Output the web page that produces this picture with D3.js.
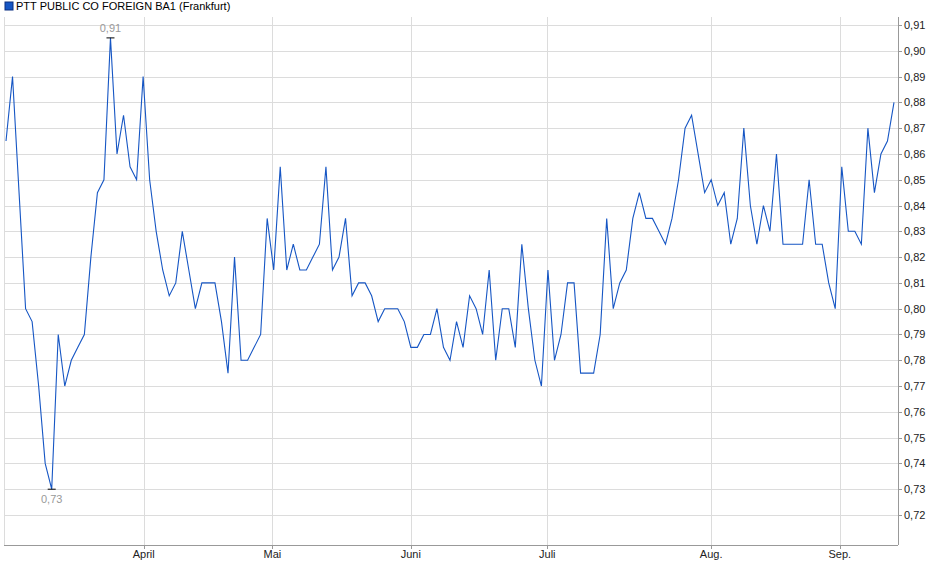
<!DOCTYPE html>
<html><head><meta charset="utf-8">
<script src="https://cdn.jsdelivr.net/npm/d3@7"></script>
<style>body{margin:0;background:#fff;font-family:Arial,"Liberation Sans",sans-serif}</style>
</head><body>
<svg id="chart" width="940" height="579"></svg>
<script>
// closing prices, one per trading day
const prices = [0.865,0.89,0.845,0.80,0.795,0.77,0.74,0.73,0.79,0.77,0.78,0.785,0.79,0.82,0.845,0.85,0.905,0.86,0.875,0.855,0.85,0.89,0.85,0.83,0.815,0.805,0.81,0.83,0.815,0.80,0.81,0.81,0.81,0.795,0.775,0.82,0.78,0.78,0.785,0.79,0.835,0.815,0.855,0.815,0.825,0.815,0.815,0.82,0.825,0.855,0.815,0.82,0.835,0.805,0.81,0.81,0.805,0.795,0.80,0.80,0.80,0.795,0.785,0.785,0.79,0.79,0.80,0.785,0.78,0.795,0.785,0.805,0.80,0.79,0.815,0.78,0.80,0.80,0.785,0.825,0.80,0.78,0.77,0.815,0.78,0.79,0.81,0.81,0.775,0.775,0.775,0.79,0.835,0.80,0.81,0.815,0.835,0.845,0.835,0.835,0.83,0.825,0.835,0.85,0.87,0.875,0.86,0.845,0.85,0.84,0.845,0.825,0.835,0.87,0.84,0.825,0.84,0.83,0.86,0.825,0.825,0.825,0.825,0.85,0.825,0.825,0.81,0.80,0.855,0.83,0.83,0.825,0.87,0.845,0.86,0.865,0.88];
const monthLabels = ["April","Mai","Juni","Juli","Aug.","Sep."];
const monthIndex = [21.1,40.8,62,82.9,108,127.7];
const yTicks = [0.72,0.73,0.74,0.75,0.76,0.77,0.78,0.79,0.80,0.81,0.82,0.83,0.84,0.85,0.86,0.87,0.88,0.89,0.90,0.91];

const svg = d3.select("#chart")
const plotLeft = 4, plotRight = 898, plotTop = 17, plotBottom = 545

const x = d3.scaleLinear().domain([0, prices.length - 1]).range([6, 894])
const y = d3.scaleLinear().domain([0.72, 0.91]).range([515, 25])
const fmt = v => d3.format(".2f")(v).replace(".", ",")

// grid
svg.append("g").selectAll("line").data(yTicks).join("line")
    .attr("x1", plotLeft).attr("x2", plotRight)
    .attr("y1", d => Math.round(y(d)) + 0.5).attr("y2", d => Math.round(y(d)) + 0.5)
    .attr("stroke", "#dcdcdc")
svg.append("g").selectAll("line").data(monthIndex).join("line")
    .attr("x1", d => Math.round(x(d)) + 0.5).attr("x2", d => Math.round(x(d)) + 0.5)
    .attr("y1", plotTop).attr("y2", plotBottom)
    .attr("stroke", "#dcdcdc")

// frame
svg.append("line").attr("x1", plotLeft + 0.5).attr("x2", plotLeft + 0.5).attr("y1", plotTop).attr("y2", plotBottom).attr("stroke", "#dcdcdc")
svg.append("line").attr("x1", plotRight + 0.5).attr("x2", plotRight + 0.5).attr("y1", plotTop).attr("y2", plotBottom).attr("stroke", "#999")
svg.append("line").attr("x1", plotLeft).attr("x2", plotRight).attr("y1", plotBottom + 0.5).attr("y2", plotBottom + 0.5).attr("stroke", "#999")

// axes labels
svg.append("g").selectAll("text").data(yTicks).join("text")
    .attr("x", 904).attr("y", d => y(d) + 4)
    .attr("font-size", 11).attr("fill", "#222").text(fmt)
svg.append("g").selectAll("line").data(yTicks).join("line")
    .attr("x1", plotRight).attr("x2", plotRight + 4)
    .attr("y1", d => Math.round(y(d)) + 0.5).attr("y2", d => Math.round(y(d)) + 0.5).attr("stroke", "#999")
svg.append("g").selectAll("text").data(monthIndex).join("text")
    .attr("x", d => x(d)).attr("y", 558).attr("text-anchor", "middle")
    .attr("font-size", 11).attr("fill", "#222").text((d, i) => monthLabels[i])
svg.append("g").selectAll("line").data(monthIndex).join("line")
    .attr("x1", d => Math.round(x(d)) + 0.5).attr("x2", d => Math.round(x(d)) + 0.5)
    .attr("y1", plotBottom).attr("y2", plotBottom + 4).attr("stroke", "#999")

// line
svg.append("path").datum(prices)
    .attr("d", d3.line().x((d, i) => x(i)).y(d => y(d)))
    .attr("fill", "none").attr("stroke", "#1656c4").attr("stroke-width", 1.1)

// high / low markers
const hi = d3.maxIndex(prices), lo = d3.minIndex(prices)
;[[hi, -6], [lo, 14]].forEach(([i, dy]) => {
    svg.append("line").attr("x1", x(i) - 4).attr("x2", x(i) + 4)
        .attr("y1", y(prices[i])).attr("y2", y(prices[i])).attr("stroke", "#000")
    svg.append("text").attr("x", x(i)).attr("y", y(prices[i]) + dy)
        .attr("text-anchor", "middle").attr("font-size", 11).attr("fill", "#999")
        .text(fmt(Math.round(prices[i] * 100) / 100))
})

// legend
svg.append("rect").attr("x", 5).attr("y", 2).attr("width", 8).attr("height", 8).attr("fill", "#1656c4").attr("stroke", "#0a2f80")
svg.append("text").attr("x", 16).attr("y", 10).attr("font-size", 11).attr("fill", "#000")
    .text("PTT PUBLIC CO FOREIGN BA1 (Frankfurt)")
</script>
</body></html>
